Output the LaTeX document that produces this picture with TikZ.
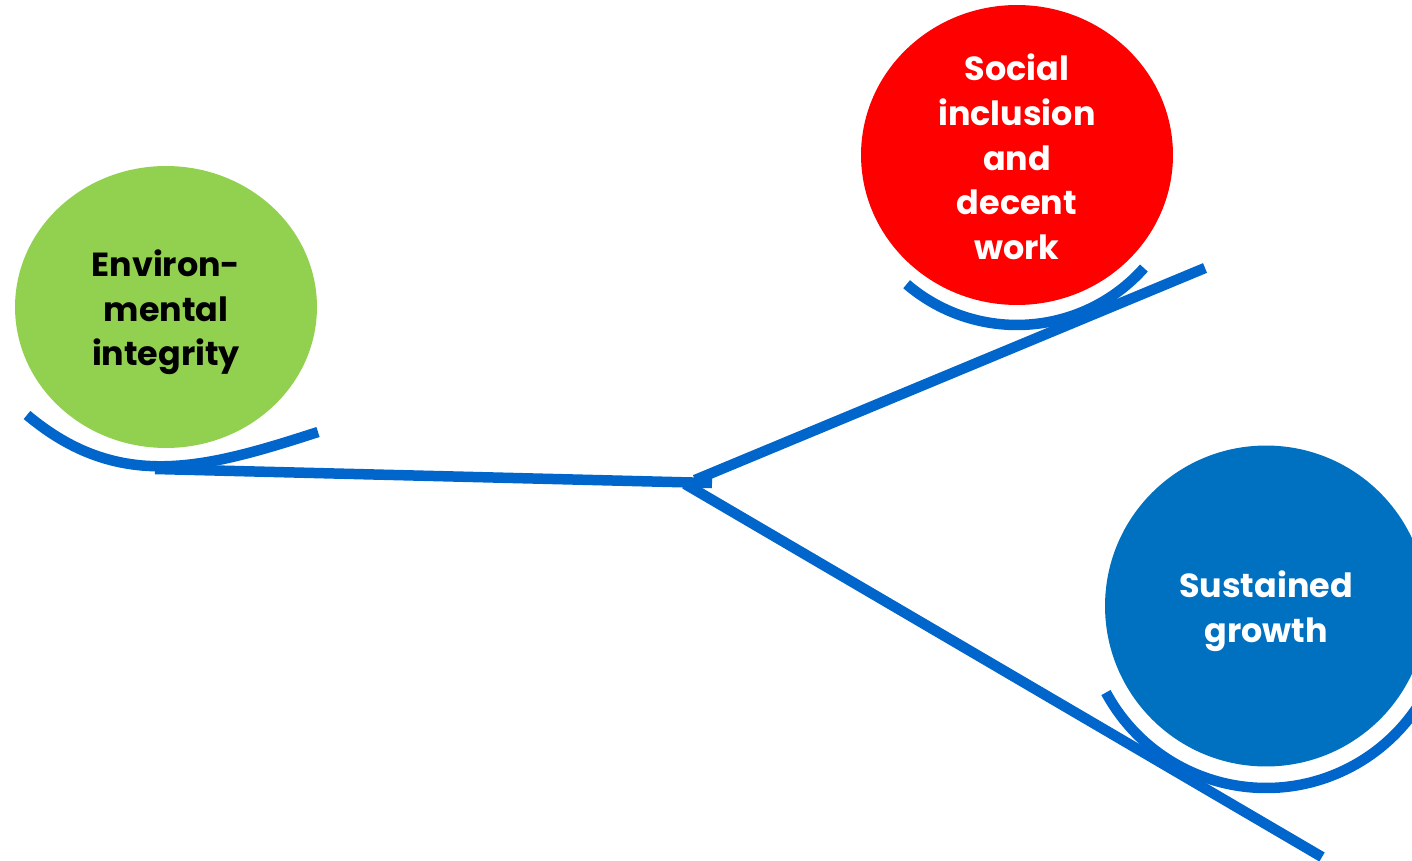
\documentclass[tikz,border=0pt]{standalone}
\usepackage{fontspec}
\setsansfont{Poppins}
\usetikzlibrary{shapes.geometric,positioning,calc}

\definecolor{leafgreen}{HTML}{92D050}
\definecolor{pillarred}{HTML}{FF0000}
\definecolor{pillarblue}{HTML}{0070C0}
\definecolor{branchblue}{HTML}{0066CC}

\tikzset{
  pillar/.style={ellipse, inner sep=0pt},
  pillartext/.style={inner sep=0pt, align=center,
    font=\sffamily\bfseries\fontsize{19}{25.4}\selectfont},
  branch/.style={draw=branchblue, line width=0.21cm}
}

\begin{document}
\begin{tikzpicture}[x=0.02cm, y=-0.02cm]
    \useasboundingbox (0,0) rectangle (1412,861);
    \clip (0,0) rectangle (1412,861);
    \node[pillar, fill=leafgreen, minimum width=6.04cm, minimum height=5.64cm] (env) at (166,307) {};
    \node[pillar, fill=pillarred, minimum width=6.24cm, minimum height=6cm] (social) at (1017,155) {};
    \node[pillar, fill=pillarblue, minimum width=6.44cm, minimum height=6.42cm] (growth) at (1266,606) {};
    \node[pillartext] (envtext) at ([yshift=-0.11cm]env.center) {Environ-\\mental\\integrity};
    \node[pillartext, text=white] (socialtext) at ([yshift=-0.04cm]social.center) {Social\\inclusion\\and\\decent\\work};
    \node[pillartext, text=white] (growthtext) at ([yshift=-0.11cm]growth.center) {Sustained\\growth};

    \coordinate (envfoot) at (155,469);
    \coordinate (hub) at (712,483);
    \coordinate (upfork) at (695,480);
    \coordinate (socialtip) at (1205,268);
    \coordinate (downfork) at (685,484);
    \coordinate (growthtip) at (1322,857);

    \draw[branch] (27,415) .. controls (119,492) and (204,469) .. (318,432);
    \draw[branch] ([shift={(229.5:3.4cm)}]social.center) arc[start angle=229.5, end angle=318.3, radius=3.4cm];
    \draw[branch] ([shift={(208.4:3.64cm)}]growth.center) arc[start angle=208.4, end angle=335, radius=3.64cm];
    \draw[branch] (envfoot) -- (hub);
    \draw[branch] (upfork) -- (socialtip);
    \draw[branch] (downfork) -- (growthtip);
\end{tikzpicture}
\end{document}
